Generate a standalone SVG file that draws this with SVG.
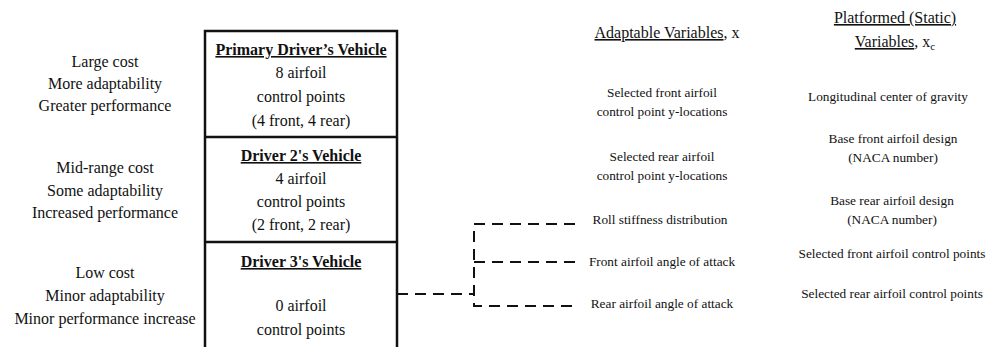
<svg xmlns="http://www.w3.org/2000/svg" width="997" height="347" viewBox="0 0 997 347">
  <style>
    text { font-family: "Liberation Serif", "Times New Roman", serif; fill: #111; text-anchor: middle; }
    .lg { font-size: 16px; }
    .sm { font-size: 13.3px; }
    .title { font-size: 16px; font-weight: bold; text-decoration: underline; }
    .ul { text-decoration: underline; }
    .box { fill: none; stroke: #111; stroke-width: 2.5; }
    .dash { fill: none; stroke: #111; stroke-width: 2; stroke-dasharray: 11 7; }
  </style>

  <!-- cost / adaptability notes -->
  <g id="tier-notes">
    <text class="lg" x="105" y="67">Large cost</text>
    <text class="lg" x="105" y="89">More adaptability</text>
    <text class="lg" x="105" y="111">Greater performance</text>
    <text class="lg" x="105" y="173">Mid-range cost</text>
    <text class="lg" x="105" y="196">Some adaptability</text>
    <text class="lg" x="105" y="218">Increased performance</text>
    <text class="lg" x="105" y="278">Low cost</text>
    <text class="lg" x="105" y="301">Minor adaptability</text>
    <text class="lg" x="105" y="324">Minor performance increase</text>
  </g>

  <!-- vehicle stack -->
  <g id="vehicle-stack">
    <path class="box" d="M205,347 V31 H397 V347 M205,137 H397 M205,242 H397"/>
  </g>

  <g id="primary-vehicle">
    <text class="title" x="301" y="55">Primary Driver’s Vehicle</text>
    <text class="lg" x="301" y="78">8 airfoil</text>
    <text class="lg" x="301" y="102">control points</text>
    <text class="lg" x="301" y="126">(4 front, 4 rear)</text>
  </g>

  <g id="driver2-vehicle">
    <text class="title" x="301" y="161">Driver 2's Vehicle</text>
    <text class="lg" x="301" y="184">4 airfoil</text>
    <text class="lg" x="301" y="207">control points</text>
    <text class="lg" x="301" y="230">(2 front, 2 rear)</text>
  </g>

  <g id="driver3-vehicle">
    <text class="title" x="301" y="267">Driver 3's Vehicle</text>
    <text class="lg" x="301" y="311">0 airfoil</text>
    <text class="lg" x="301" y="335">control points</text>
  </g>

  <!-- connectors -->
  <g id="connectors">
    <path class="dash" d="M397,294 H474"/>
    <path class="dash" d="M575,224 H474 V306 H575"/>
    <path class="dash" d="M474,262 H575"/>
  </g>

  <!-- adaptable variables -->
  <g id="adaptable-header">
    <text class="lg" x="667" y="38"><tspan class="ul">Adaptable Variables</tspan>, x</text>
  </g>
  <g id="adaptable-front-cp">
    <text class="sm" x="662" y="97">Selected front airfoil</text>
    <text class="sm" x="662" y="116">control point y-locations</text>
  </g>
  <g id="adaptable-rear-cp">
    <text class="sm" x="662" y="161">Selected rear airfoil</text>
    <text class="sm" x="662" y="180">control point y-locations</text>
  </g>
  <g id="roll-stiffness">
    <text class="sm" x="660" y="224">Roll stiffness distribution</text>
  </g>
  <g id="front-aoa">
    <text class="sm" x="662" y="266">Front airfoil angle of attack</text>
  </g>
  <g id="rear-aoa">
    <text class="sm" x="662" y="308">Rear airfoil angle of attack</text>
  </g>

  <!-- platformed variables -->
  <g id="platformed-header">
    <text class="lg" x="895" y="23"><tspan class="ul">Platformed (Static)</tspan></text>
    <text class="lg" x="895" y="47"><tspan class="ul">Variables</tspan>, x<tspan font-size="11" dy="3">c</tspan></text>
  </g>
  <g id="cog">
    <text class="sm" x="888" y="101">Longitudinal center of gravity</text>
  </g>
  <g id="base-front">
    <text class="sm" x="893" y="143">Base front airfoil design</text>
    <text class="sm" x="893" y="162">(NACA number)</text>
  </g>
  <g id="base-rear">
    <text class="sm" x="892" y="205">Base rear airfoil design</text>
    <text class="sm" x="892" y="224">(NACA number)</text>
  </g>
  <g id="front-cp">
    <text class="sm" x="892" y="258">Selected front airfoil control points</text>
  </g>
  <g id="rear-cp">
    <text class="sm" x="892" y="298">Selected rear airfoil control points</text>
  </g>
</svg>
